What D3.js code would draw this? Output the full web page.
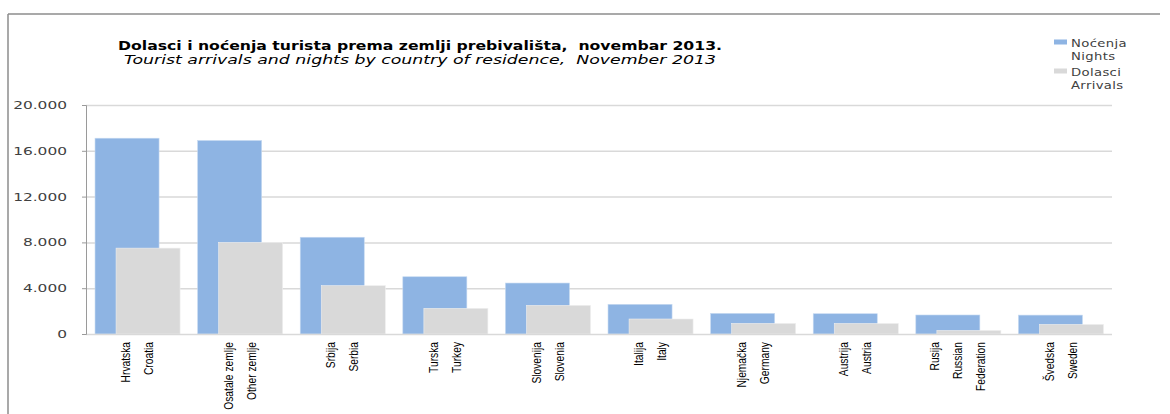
<!DOCTYPE html>
<html><head><meta charset="utf-8">
<script src="https://cdn.jsdelivr.net/npm/d3@7"></script>
<style>body{margin:0;background:#fff}svg{display:block}</style>
</head><body>
<script>
const categoryLines = [
  ["Hrvatska","Croatia"],
  ["Osatale zemlje","Other zemlje"],
  ["Srbija","Serbia"],
  ["Turska","Turkey"],
  ["Slovenija","Slovenia"],
  ["Italija","Italy"],
  ["Njemačka","Germany"],
  ["Austrija","Austria"],
  ["Rusija","Russian","Federation"],
  ["Švedska","Sweden"]
];
const nights   = [17100, 16900, 8450, 5000, 4450, 2590, 1800, 1770, 1660, 1650];
const arrivals = [7500, 8000, 4220, 2240, 2500, 1310, 925, 920, 315, 840];
const yTicks = [0, 4000, 8000, 12000, 16000, 20000];
const yTickLabels = ["0","4.000","8.000","12.000","16.000","20.000"];
const titleText = "Dolasci i noćenja turista prema zemlji prebivališta,  novembar 2013.";
const subtitleText = "Tourist arrivals and nights by country of residence,  November 2013";
const legendItems = [["Noćenja","Nights"],["Dolasci","Arrivals"]];

const W = 1170, H = 414;
const svg = d3.select("body").append("svg").attr("width", W).attr("height", H);
const m = {left: 86, right: 1112, top: 105, bottom: 334};
const idx = d3.range(categoryLines.length);
const x = d3.scaleBand().domain(idx).range([m.left, m.right]).padding(0);
const y = d3.scaleLinear().domain([0, 20000]).range([m.bottom, m.top]);
const bw = x.bandwidth();

// frame
svg.append("line").attr("x1", 8).attr("x2", 8).attr("y1", 14).attr("y2", H).attr("stroke", "#8c8c8c").attr("stroke-width", 1.5);
svg.append("line").attr("x1", 8).attr("x2", 1160).attr("y1", 14).attr("y2", 14).attr("stroke", "#8c8c8c").attr("stroke-width", 1.5);

// gridlines
svg.append("g").selectAll("line").data(yTicks.slice(1)).join("line")
  .attr("x1", m.left).attr("x2", m.right)
  .attr("y1", d => y(d) + 0.5).attr("y2", d => y(d) + 0.5)
  .attr("stroke", "#d9d9d9").attr("stroke-width", 1.5);

// bars
const nightsColor = "#8eb4e3", arrColor = "#d9d9d9";
svg.append("g").selectAll("rect").data(nights).join("rect")
  .attr("x", (d, i) => x(i) + bw * 0.088)
  .attr("width", bw * 0.624)
  .attr("y", d => y(d)).attr("height", d => y(0) - y(d))
  .attr("fill", nightsColor).attr("stroke", "#c6d9f1").attr("stroke-width", 0.6);
svg.append("g").selectAll("rect").data(arrivals).join("rect")
  .attr("x", (d, i) => x(i) + bw * 0.293)
  .attr("width", bw * 0.624)
  .attr("y", d => y(d)).attr("height", d => y(0) - y(d))
  .attr("fill", arrColor).attr("stroke", "#eeeeee").attr("stroke-width", 0.6);

// bottom axis line
svg.append("line").attr("x1", m.left).attr("x2", m.right).attr("y1", y(0) + 0.5).attr("y2", y(0) + 0.5)
  .attr("stroke", "#d9d9d9").attr("stroke-width", 1.5);

// left axis
const yAxis = svg.append("g").attr("transform", `translate(${m.left},0)`)
  .call(d3.axisLeft(y).tickValues(yTicks).tickSize(4).tickFormat(""));
yAxis.select(".domain").attr("stroke", "#9a9a9a");
yAxis.selectAll(".tick line").attr("stroke", "#9a9a9a");

// y tick labels (stretched like reference)
svg.append("g").selectAll("g").data(yTicks).join("g")
  .attr("transform", d => `translate(67,${y(d)}) scale(1.4,1)`)
  .append("text")
  .attr("text-anchor", "end").attr("dy", "0.36em")
  .attr("font-family", "DejaVu Sans").attr("font-size", 11).attr("fill", "#404040")
  .text((d, i) => yTickLabels[i]);

// x labels (condensed)
const xl = svg.append("g");
categoryLines.forEach((lines, i) => {
  const cx = x(i) + bw / 2;
  const n = lines.length;
  const gap = 23;
  lines.forEach((t, j) => {
    const lx = cx + (j - (n - 1) / 2) * gap;
    xl.append("text")
      .attr("transform", `translate(${lx},342) rotate(-90) scale(0.82,1)`)
      .attr("text-anchor", "end").attr("dy", "0.35em")
      .attr("font-family", "Liberation Sans, Arial, sans-serif")
      .attr("font-size", 12.5).attr("fill", "#000")
      .text(t);
  });
});

// title
svg.append("text").attr("x", 420).attr("y", 50).attr("text-anchor", "middle")
  .attr("font-family", "DejaVu Sans").attr("font-weight", "bold").attr("font-size", 12)
  .style("white-space", "pre")
  .attr("textLength", 604).attr("lengthAdjust", "spacingAndGlyphs")
  .text(titleText);
svg.append("text").attr("x", 420).attr("y", 64).attr("text-anchor", "middle")
  .attr("font-family", "DejaVu Sans").attr("font-style", "italic").attr("font-size", 12)
  .style("white-space", "pre")
  .attr("textLength", 592).attr("lengthAdjust", "spacingAndGlyphs")
  .text(subtitleText);

// legend
const legColors = [nightsColor, arrColor];
const legY = [42, 71];
legendItems.forEach((lines, i) => {
  svg.append("rect").attr("x", 1054).attr("y", legY[i] - 2.5).attr("width", 13).attr("height", 5)
    .attr("fill", legColors[i]);
  lines.forEach((t, j) => {
    svg.append("g").attr("transform", `translate(1071,${legY[i] + 5 + j * 12.5}) scale(1.2,1)`)
      .append("text").attr("x", 0).attr("y", 0)
      .attr("font-family", "DejaVu Sans").attr("font-size", 11).attr("fill", "#404040")
      .attr("letter-spacing", 0.3)
      .text(t);
  });
});
</script>
</body></html>
